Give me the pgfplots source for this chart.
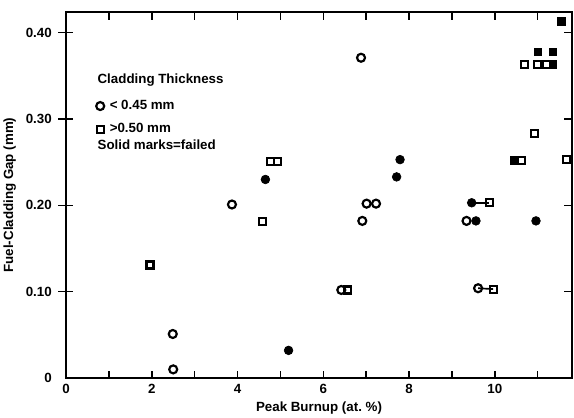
\documentclass[border=0pt]{standalone}
\usepackage{pgfplots}
\pgfplotsset{compat=1.18}
\usepackage{fontspec}
\setmainfont{Liberation Sans}
\usetikzlibrary{calc}

\begin{document}
\begin{tikzpicture}
\begin{axis}[
    name=ax,
    scale only axis,
    width=303.6pt, height=219.6pt,
    xmin=0, xmax=11.8,
    ymin=0, ymax=0.424,
    xtick={0,2,4,6,8,10},
    minor xtick={1,3,5,7,9,11},
    ytick={0,0.1,0.2,0.3,0.4},
    yticklabels={0,0.10,0.20,0.30,0.40},
    tick align=inside,
    major tick length=4pt, minor tick length=4pt,
    tick style={black, line width=0.9pt},
    axis line style={line width=1.2pt},
    xlabel={Peak Burnup (at.\ \%)},
    ylabel={Fuel-Cladding Gap (mm)},
    label style={font=\bfseries\footnotesize},
    ticklabel style={font=\bfseries\footnotesize},
    yticklabel style={xshift=-5pt},
    /pgf/number format/assume math mode=true,
    xlabel style={yshift=2pt},
    ylabel style={yshift=-1pt},
    legend style={at={(axis cs:0.58,0.330)}, anchor=north west, draw=none, fill=none,
        font=\bfseries\footnotesize, row sep=3pt, cells={anchor=west}},
    legend image code/.code={\draw[#1] plot coordinates {(0.1cm,0cm)};},
    clip=false,
]

% connectors between paired points
\addplot[black, line width=1pt, forget plot] coordinates {(9.46,0.203) (9.87,0.203)};
\addplot[black, line width=1pt, forget plot] coordinates {(9.61,0.104) (9.96,0.103)};

% thin cladding (< 0.45 mm), intact
\addplot[only marks, mark=o, mark size=2.4pt, line width=1.3pt, black] coordinates {
    (2.49,0.051) (2.50,0.010) (3.87,0.201) (6.88,0.371)
    (7.01,0.202) (7.23,0.202) (6.91,0.182) (6.42,0.102)
    (9.34,0.182) (9.61,0.104)
};
\addlegendentry{\,< 0.45 mm}

% thick cladding (> 0.50 mm), intact
\addplot[only marks, mark=square, mark size=2.1pt, line width=1.3pt, black] coordinates {
    (1.96,0.131) (4.59,0.181) (4.76,0.251) (4.94,0.251)
    (6.56,0.102) (9.87,0.203) (9.96,0.103) (10.70,0.363)
    (10.93,0.283) (10.62,0.252) (11.67,0.253) (11.00,0.363)
    (11.20,0.363)
};
\addlegendentry{\,>0.50 mm}

% failed, thin
\addplot[only marks, mark=*, mark size=2.6pt, black, forget plot] coordinates {
    (4.65,0.230) (5.19,0.032) (7.79,0.253) (7.71,0.233)
    (9.46,0.203) (9.56,0.182) (10.96,0.182)
};

% failed, thick
\addplot[only marks, mark=square*, mark size=2.3pt, black, forget plot] coordinates {
    (10.45,0.252) (11.00,0.378) (11.35,0.378) (11.35,0.363)
    (11.55,0.413)
};

\node[anchor=west, font=\bfseries\footnotesize] at (axis cs:0.60,0.345) {Cladding Thickness};
\node[anchor=west, font=\bfseries\footnotesize] at (axis cs:0.60,0.270) {Solid marks=failed};

% ticks on the top and right edges, outward dashes on the left
\pgfplotsinvokeforeach{1,2,...,11}{
    \draw[line width=0.9pt] (axis cs:#1,0.424) -- ++(0,-5pt);
}
\pgfplotsinvokeforeach{0.1,0.2,0.3,0.4}{
    \draw[line width=0.9pt] (axis cs:11.8,#1) -- ++(-5pt,0);
    \draw[line width=0.9pt] (axis cs:0,#1) -- ++(-5pt,0);
}
\end{axis}
\pgfresetboundingbox
\path ($(ax.south west)+(-39.6pt,-23.4pt)$) rectangle ($(ax.north east)+(1.2pt,7.2pt)$);
\end{tikzpicture}
\end{document}
